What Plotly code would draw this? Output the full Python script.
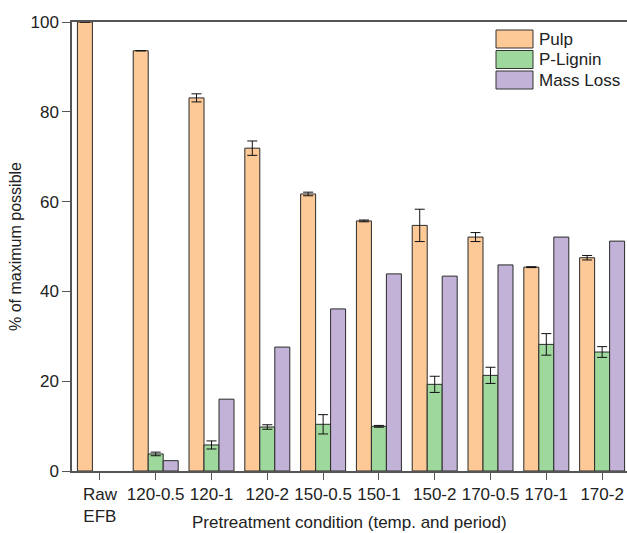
import plotly.graph_objects as go

categories = ["Raw<br>EFB", "120-0.5", "120-1", "120-2", "150-0.5", "150-1",
              "150-2", "170-0.5", "170-1", "170-2"]

pulp = [100.0, 93.6, 83.1, 71.9, 61.7, 55.7, 54.7, 52.1, 45.4, 47.5]
pulp_err = [0, 0, 0.9, 1.6, 0.4, 0.2, 3.6, 1.0, 0.1, 0.5]

lignin = [0, 3.8, 5.8, 9.8, 10.4, 9.95, 19.3, 21.3, 28.2, 26.5]
lignin_err = [0, 0.4, 0.9, 0.5, 2.15, 0.2, 1.8, 1.8, 2.4, 1.2]

mass_loss = [0, 2.3, 16.0, 27.6, 36.1, 43.9, 43.4, 45.9, 52.1, 51.2]

series_names = ["Pulp", "P-Lignin", "Mass Loss"]
colors = ["#FCC997", "#9ED89C", "#C3B2D7"]

FONT = "Liberation Sans, Arial, sans-serif"
x_idx = list(range(len(categories)))

fig = go.Figure()
for name, vals, err, col in [
    (series_names[0], pulp, pulp_err, colors[0]),
    (series_names[1], lignin, lignin_err, colors[1]),
    (series_names[2], mass_loss, None, colors[2]),
]:
    # categories with a zero value have no bar and no error bar drawn
    xs = [i for i, v in zip(x_idx, vals) if v > 0]
    ys = [v for v in vals if v > 0]
    kw = {}
    if err is not None:
        es = [e for e, v in zip(err, vals) if v > 0]
        kw["error_y"] = dict(type="data", array=es, visible=True,
                             color="#111111", thickness=1, width=5)
    fig.add_trace(go.Bar(
        x=xs, y=ys, name=name,
        marker=dict(color=col, line=dict(color="#2a2a2a", width=1)),
        offsetgroup=name, **kw,
    ))

fig.update_layout(
    width=627, height=533,
    margin=dict(l=72, r=0, t=22, b=62),
    barmode="group", bargap=0.194, bargroupgap=0,
    plot_bgcolor="white", paper_bgcolor="white",
    showlegend=False,
    font=dict(family=FONT, size=17, color="#222222"),
)

fig.update_xaxes(
    range=[-0.5, 9.446],
    tickmode="array", tickvals=x_idx, ticktext=categories,
    ticks="outside", ticklen=7, tickcolor="#555555", tickwidth=1,
    showline=True, linecolor="#555555", linewidth=1.5, mirror=True,
    showgrid=False, zeroline=False,
    tickfont=dict(size=17),
)
fig.update_yaxes(
    range=[0, 100], tickvals=[0, 20, 40, 60, 80, 100],
    ticks="outside", ticklen=8, tickcolor="#555555", tickwidth=1,
    showline=True, linecolor="#555555", linewidth=1.5,
    showgrid=False, zeroline=False,
    title=dict(text="% of maximum possible", font=dict(size=16), standoff=5),
    tickfont=dict(size=17),
)

# x-axis title
fig.add_annotation(
    text="Pretreatment condition (temp. and period)",
    xref="paper", yref="paper", x=0.5, y=-(522 - 471) / 449,
    xanchor="center", yanchor="middle", showarrow=False,
    font=dict(size=17),
)

# legend with wide swatches
sw_x0, sw_x1 = 496, 533
row_tops = [30, 50.5, 71]
row_h = 18
plot_l, plot_t, plot_w, plot_h = 72, 22, 555, 449
for name, col, top in zip(series_names, colors, row_tops):
    fig.add_shape(
        type="rect", xref="paper", yref="paper",
        x0=(sw_x0 - plot_l) / plot_w, x1=(sw_x1 - plot_l) / plot_w,
        y0=1 - (top + row_h - plot_t) / plot_h, y1=1 - (top - plot_t) / plot_h,
        fillcolor=col, line=dict(color="#333333", width=1),
    )
    fig.add_annotation(
        text=name, xref="paper", yref="paper",
        x=(537 - plot_l) / plot_w, y=1 - (top + row_h / 2 - plot_t) / plot_h,
        xanchor="left", yanchor="middle", showarrow=False,
        font=dict(size=17),
    )

fig.write_html("out.html")
